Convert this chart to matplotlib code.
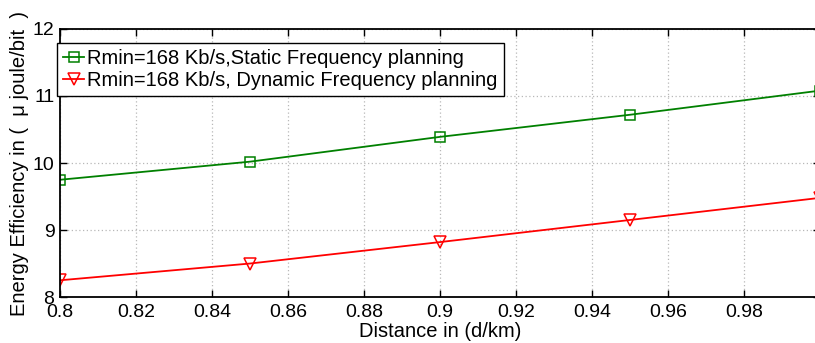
import matplotlib
matplotlib.use("Agg")
import matplotlib.pyplot as plt

plt.rcParams['font.family'] = ['Liberation Sans', 'DejaVu Sans']

distance = [0.80, 0.85, 0.90, 0.95, 1.00]
ee_static = [9.75, 10.02, 10.39, 10.72, 11.08]
ee_dynamic = [8.25, 8.50, 8.82, 9.15, 9.48]

label_static = "Rmin=168 Kb/s,Static Frequency planning"
label_dynamic = "Rmin=168 Kb/s, Dynamic Frequency planning"

x_ticks = [0.8, 0.82, 0.84, 0.86, 0.88, 0.9, 0.92, 0.94, 0.96, 0.98, 1.0]
x_ticklabels = ["0.8", "0.82", "0.84", "0.86", "0.88", "0.9", "0.92", "0.94", "0.96", "0.98", "1"]
y_ticks = [8, 9, 10, 11, 12]

fig = plt.figure(figsize=(8.15, 3.43), dpi=100)
ax = fig.add_axes([0.0736, 0.134, 0.9325, 0.7815])

ax.plot(distance, ee_static, color='#008000', lw=1.3, marker='s', ms=7,
        mfc='none', mec='#008000', mew=1.1, label=label_static)
ax.plot(distance, ee_dynamic, color='#ff0000', lw=1.3, marker='v', ms=9,
        mfc='none', mec='#ff0000', mew=1.1, label=label_dynamic)

ax.set_xlim(0.8, 1.0)
ax.set_ylim(8, 12)
ax.set_xticks(x_ticks)
ax.set_xticklabels(x_ticklabels)
ax.set_yticks(y_ticks)
ax.tick_params(direction='in', top=True, right=True, labelsize=14,
               length=5, width=1.0, pad=4)
ax.tick_params(axis='x', pad=5)
ax.grid(True, color='#b8b8b8', linestyle=(0, (1, 2)), linewidth=0.9)
for s in ax.spines.values():
    s.set_linewidth(1.3)

ax.set_xlabel("Distance in (d/km)", fontsize=14.5, labelpad=1)
ax.set_ylabel("Energy Efficiency in (  \u03bc joule/bit  )", fontsize=14.5, labelpad=3)

leg = ax.legend(loc='upper left', bbox_to_anchor=(-0.004, 0.948), borderaxespad=0,
                fontsize=14.5, frameon=True, fancybox=False, framealpha=1,
                edgecolor='black', handlelength=1.05, handletextpad=0.15,
                borderpad=0.3, labelspacing=0.15)
leg.get_frame().set_linewidth(1.0)

fig.savefig("out.png", dpi=100)
